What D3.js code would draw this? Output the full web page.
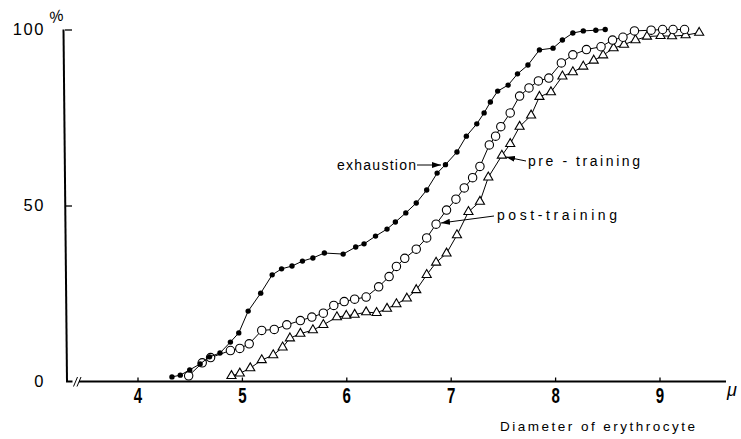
<!DOCTYPE html>
<html><head><meta charset="utf-8">
<script src="https://cdn.jsdelivr.net/npm/d3@7"></script>
<style>
html,body{margin:0;padding:0;background:#fff;}
svg{display:block;}
</style></head>
<body>
<svg id="chart" width="741" height="439"></svg>
<script>
// Cumulative distribution of erythrocyte diameter (μ) under three conditions

const xTicks = [4, 5, 6, 7, 8, 9];
const yTicks = [0, 50, 100];

// exhaustion — filled circles
const exhaustionX = [4.33,4.41,4.50,4.60,4.69,4.79,4.89,4.97,5.06,5.18,5.29,5.38,5.48,5.58,5.68,5.79,5.97,6.09,6.17,6.28,6.39,6.47,6.57,6.67,6.77,6.87,6.95,7.06,7.15,7.25,7.32,7.38,7.45,7.55,7.64,7.74,7.85,7.98,8.07,8.17,8.27,8.39,8.48];
const exhaustionY = [1.3,1.8,3.3,5.0,7.0,8.1,11.2,13.8,20.0,25.1,30.3,32.0,32.8,34.2,35.1,36.5,36.2,38.2,39.1,41.3,43.3,45.3,47.9,50.7,54.4,59.2,61.6,65.2,69.7,73.2,76.3,79.4,82.5,84.2,87.4,89.9,94.2,94.7,97.0,99.0,99.6,99.8,100];

// post-training — open circles
const postX = [4.49,4.62,4.70,4.89,4.98,5.07,5.19,5.31,5.43,5.56,5.67,5.78,5.88,5.98,6.08,6.19,6.31,6.41,6.48,6.56,6.67,6.77,6.86,6.96,7.05,7.13,7.21,7.28,7.37,7.43,7.48,7.57,7.66,7.75,7.84,7.94,8.06,8.17,8.30,8.44,8.55,8.65,8.76,8.92,9.03,9.13,9.24];
const postY = [1.6,5.3,6.8,8.8,9.4,10.7,14.5,14.8,16.1,17.3,18.3,19.4,21.6,22.7,23.4,24.0,26.9,29.8,32.7,35.0,37.6,40.8,44.7,48.7,51.8,55.0,57.9,61.1,67.2,69.7,72.4,76.3,81.1,83.4,85.4,86.2,90.5,92.8,94.3,95.1,97.0,97.8,99.6,99.8,100,100,100];

// pre-training — open triangles
const preX = [4.90,4.98,5.08,5.19,5.30,5.39,5.46,5.56,5.68,5.78,5.91,6.00,6.08,6.19,6.29,6.39,6.48,6.58,6.67,6.77,6.86,6.96,7.06,7.17,7.28,7.36,7.49,7.57,7.66,7.77,7.85,7.96,8.07,8.17,8.27,8.37,8.46,8.56,8.66,8.77,8.88,9.01,9.12,9.25,9.38];
const preY = [1.6,2.3,3.8,6.1,7.5,9.7,12.3,13.6,14.6,16.1,18.3,18.7,19.0,19.7,19.5,20.7,22.0,23.6,26.0,30.3,33.8,36.4,41.6,48.2,51.1,58.0,64.2,67.5,72.4,75.6,80.9,82.2,86.7,87.9,89.5,91.2,92.7,94.7,95.7,97.0,98.0,98.2,98.1,98.4,99.1];

const svg = d3.select('#chart');
const x = d3.scaleLinear().domain([4, 9]).range([137.5, 659.5]);
const y = d3.scaleLinear().domain([0, 100]).range([381.5, 29.5]);

const labelFont = '"Liberation Sans", Arial, Helvetica, sans-serif';

// ---- x axis ----
const gx = svg.append('g').attr('transform', `translate(0,${y(0)})`)
  .call(d3.axisBottom(x).tickValues(xTicks).tickSizeInner(-4).tickSizeOuter(0)
    .tickPadding(6).tickFormat(d3.format('d')));
gx.select('.domain').remove();
gx.selectAll('.tick line').attr('stroke', '#000').attr('stroke-width', 1.3);
// condensed bold numerals
gx.selectAll('.tick text').attr('font-family', labelFont).attr('font-weight', 'bold')
  .attr('font-size', 21.5).attr('fill', '#000')
  .attr('transform', 'scale(0.7,1)');

// axis baseline with break marks near the origin
svg.append('line').attr('x1', 66).attr('x2', 72.5).attr('y1', y(0)).attr('y2', y(0))
  .attr('stroke', '#000').attr('stroke-width', 2);
svg.append('line').attr('x1', 79).attr('x2', 726).attr('y1', y(0)).attr('y2', y(0))
  .attr('stroke', '#000').attr('stroke-width', 2);
[[73.5, 386.5, 77.5, 377], [77, 386.5, 81, 377]].forEach(s => {
  svg.append('line').attr('x1', s[0]).attr('y1', s[1]).attr('x2', s[2]).attr('y2', s[3])
    .attr('stroke', '#000').attr('stroke-width', 1);
});

// ---- y axis ----
const gy = svg.append('g').attr('transform', 'translate(65,0)')
  .call(d3.axisLeft(y).tickValues(yTicks).tickSizeInner(-7).tickSizeOuter(0).tickPadding(20));
gy.select('.domain').remove();
gy.selectAll('.tick line').attr('stroke', '#000').attr('stroke-width', 1.3)
  .filter(d => d === 0).remove();
gy.selectAll('.tick text').attr('font-family', labelFont).attr('font-size', 16.5)
  .attr('letter-spacing', 1.6).attr('fill', '#000');
svg.append('line').attr('x1', 63.5).attr('y1', y(100)).attr('x2', 67).attr('y2', y(0))
  .attr('stroke', '#000').attr('stroke-width', 2);

// unit labels
svg.append('text').attr('x', 49).attr('y', 22).attr('font-family', labelFont)
  .attr('font-size', 16).attr('font-style', 'italic').attr('fill', '#000')
  .attr('transform', 'rotate(-15,56,16)').text('%');
svg.append('text').attr('x', 727).attr('y', 396).attr('font-family', labelFont)
  .attr('font-size', 18).attr('font-style', 'italic').attr('fill', '#000').text('μ');
svg.append('text').attr('x', 500).attr('y', 431).attr('font-family', labelFont)
  .attr('font-size', 13.5).attr('fill', '#000')
  .attr('textLength', 195).attr('lengthAdjust', 'spacing').text('Diameter of erythrocyte');

// ---- series ----
const line = d3.line().x(d => x(d[0])).y(d => y(d[1]));
const series = [
  { xs: preX, ys: preY, kind: 'triangle' },
  { xs: postX, ys: postY, kind: 'open' },
  { xs: exhaustionX, ys: exhaustionY, kind: 'filled' }
];
series.forEach(s => {
  const pts = s.xs.map((v, i) => [v, s.ys[i]]);
  const g = svg.append('g');
  g.append('path').datum(pts).attr('d', line).attr('fill', 'none')
    .attr('stroke', '#000').attr('stroke-width', 1);
  if (s.kind === 'triangle') {
    g.selectAll('path.m').data(pts).join('path').attr('class', 'm')
      .attr('d', d3.symbol().type(d3.symbolTriangle).size(36))
      .attr('transform', d => `translate(${x(d[0])},${y(d[1])})`)
      .attr('fill', '#fff').attr('stroke', '#000').attr('stroke-width', 1.1);
  } else if (s.kind === 'open') {
    g.selectAll('circle').data(pts).join('circle')
      .attr('cx', d => x(d[0])).attr('cy', d => y(d[1])).attr('r', 4.2)
      .attr('fill', '#fff').attr('stroke', '#000').attr('stroke-width', 1.1);
  } else {
    g.selectAll('circle').data(pts).join('circle')
      .attr('cx', d => x(d[0])).attr('cy', d => y(d[1])).attr('r', 2.7)
      .attr('fill', '#000');
  }
});

// ---- annotations with arrows ----
svg.append('defs').append('marker').attr('id', 'ah')
  .attr('viewBox', '0 -4 9 8').attr('refX', 9).attr('refY', 0)
  .attr('markerWidth', 9).attr('markerHeight', 8).attr('markerUnits', 'userSpaceOnUse')
  .attr('orient', 'auto')
  .append('path').attr('d', 'M0,-3L9,0L0,3Z').attr('fill', '#000');

const notes = [
  { text: 'exhaustion', tx: 337, ty: 170, w: 79, ax1: 417, ay1: 165, ax2: 441, ay2: 165 },
  { text: 'pre - training', tx: 528, ty: 166, w: 112, ax1: 526, ay1: 161, ax2: 506, ay2: 157 },
  { text: 'post-training', tx: 497, ty: 220, w: 120, ax1: 494, ay1: 216, ax2: 441, ay2: 223 }
];
notes.forEach(n => {
  svg.append('text').attr('x', n.tx).attr('y', n.ty).attr('font-family', labelFont)
    .attr('font-size', 14).attr('fill', '#000')
    .attr('textLength', n.w).attr('lengthAdjust', 'spacing').text(n.text);
  svg.append('line').attr('x1', n.ax1).attr('y1', n.ay1).attr('x2', n.ax2).attr('y2', n.ay2)
    .attr('stroke', '#000').attr('stroke-width', 1).attr('marker-end', 'url(#ah)');
});
</script>
</body></html>
